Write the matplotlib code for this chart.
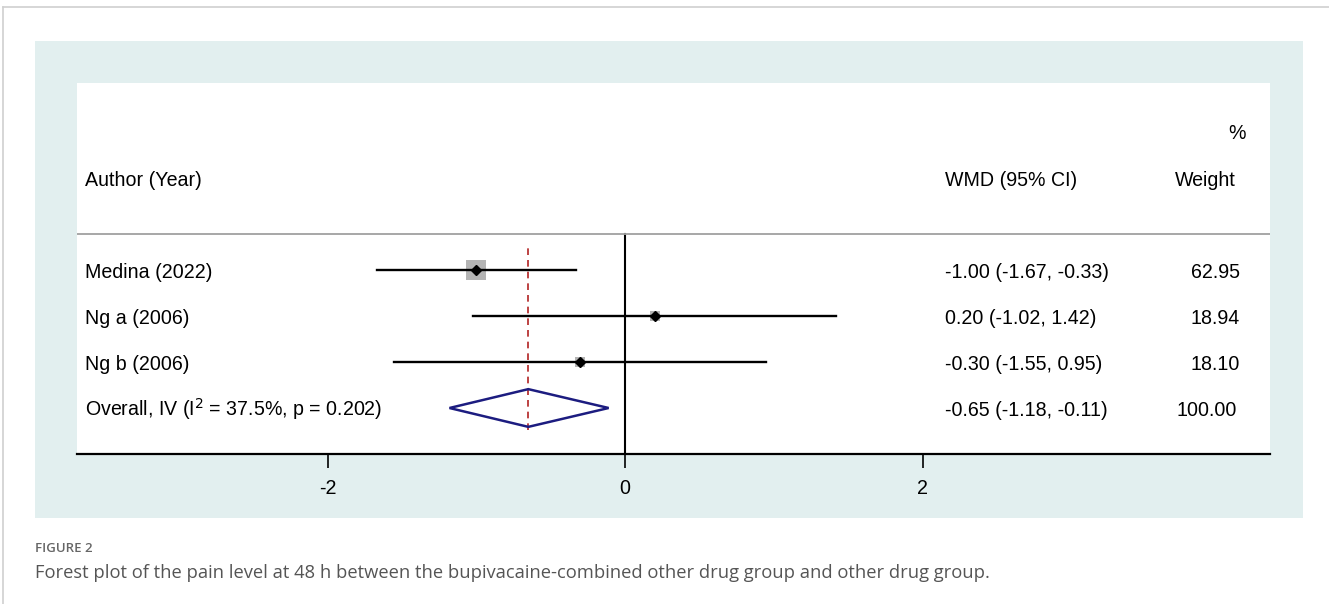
import matplotlib.pyplot as plt
from matplotlib.patches import Rectangle, Polygon
from matplotlib.lines import Line2D

plt.rcParams["font.family"] = ["Liberation Sans", "DejaVu Sans"]

studies = ["Medina (2022)", "Ng a (2006)", "Ng b (2006)"]
wmd = [-1.00, 0.20, -0.30]
lo = [-1.67, -1.02, -1.55]
hi = [-0.33, 1.42, 0.95]
weights = [62.95, 18.94, 18.10]
overall_label = "Overall, IV (I$^2$ = 37.5%, p = 0.202)"
overall = -0.65
overall_lo = -1.18
overall_hi = -0.11
overall_w = 100.00
xticks = [-2, 0, 2]

W, H = 1329, 604
fig = plt.figure(figsize=(W / 100, H / 100), dpi=100)
fig.patch.set_facecolor("white")


def fx(px):
    return px / W


def fy(py):
    return 1 - py / H


# page frame and teal panel
fig.add_artist(Line2D([fx(3), 1], [fy(7), fy(7)], color="#d0d0d0", lw=1.2))
fig.add_artist(Line2D([fx(3), fx(3)], [fy(7), 0], color="#d0d0d0", lw=1.2))
fig.add_artist(Rectangle((fx(35), fy(518)), fx(1303) - fx(35), fy(41) - fy(518),
                         facecolor="#e2efef", edgecolor="none", zorder=0))

ax = fig.add_axes([fx(77), fy(454), fx(1270) - fx(77), fy(83) - fy(454)])
ax.set_facecolor("white")
ppu = 148.75  # pixels per x unit
x0 = 625


def dx(px):
    return (px - x0) / ppu


ax.set_xlim(dx(77), dx(1270))
ax.set_ylim(0, (454 - 83) / 46)

rows = [4, 3, 2]
for r, m, l, h, w in zip(rows, wmd, lo, hi, weights):
    ax.plot([l, h], [r, r], color="black", lw=1.7, zorder=3)
    ax.scatter([m], [r], marker="s", s=3.3 * w, color="#b4b4b4", zorder=2, linewidths=0)
    ax.plot([m], [r], marker="D", ms=5.5, color="black", zorder=4)

diamond = Polygon([[overall_lo, 1], [overall, 1.41], [overall_hi, 1], [overall, 0.59]],
                  closed=True, fill=False, edgecolor="#1c1c80", lw=1.8, zorder=3)
ax.add_patch(diamond)

ax.plot([0, 0], [0, 4.78], color="black", lw=1.5, zorder=1)
ax.plot([overall, overall], [0.52, 4.54], color="#b22222", lw=1.2, ls=(0, (4, 3)), zorder=2)
ax.plot([dx(77), dx(1270)], [4.78, 4.78], color="#a0a0a0", lw=1.3)

fs = 14.1
off = -0.045  # small nudge so text centres sit on the rows
ax.text(dx(85), 6.0 + off, "Author (Year)", fontsize=fs, va="center", ha="left")
ax.text(dx(945), 6.0 + off, "WMD (95% CI)", fontsize=fs, va="center", ha="left")
ax.text(dx(1236), 6.0 + off, "Weight", fontsize=fs, va="center", ha="right")
ax.text(dx(1246), 7.02 + off, "%", fontsize=fs, va="center", ha="right")

for r, name, m, l, h, w in zip(rows, studies, wmd, lo, hi, weights):
    ax.text(dx(85), r + off, name, fontsize=fs, va="center", ha="left")
    ax.text(dx(945), r + off, f"{m:.2f} ({l:.2f}, {h:.2f})", fontsize=fs, va="center", ha="left")
    ax.text(dx(1240), r + off, f"{w:.2f}", fontsize=fs, va="center", ha="right")

ax.text(dx(85), 1 - 0.03, overall_label, fontsize=fs, va="center", ha="left")
ax.text(dx(945), 1 + off, f"{overall:.2f} ({overall_lo:.2f}, {overall_hi:.2f})",
        fontsize=fs, va="center", ha="left")
ax.text(dx(1237), 1 + off, f"{overall_w:.2f}", fontsize=fs, va="center", ha="right")

for s in ["top", "left", "right"]:
    ax.spines[s].set_visible(False)
ax.spines["bottom"].set_linewidth(1.6)
ax.set_yticks([])
ax.set_xticks(xticks)
ax.set_xticklabels([str(t) for t in xticks])
ax.tick_params(axis="x", direction="out", length=10, width=1.2, pad=8, labelsize=fs)

fig.text(fx(35), fy(549), "FIGURE 2", fontsize=9.5, color="#666666", va="center",
         ha="left", family=["Open Sans", "DejaVu Sans"], fontweight="semibold")
fig.text(fx(35), fy(573),
         "Forest plot of the pain level at 48 h between the bupivacaine-combined "
         "other drug group and other drug group.",
         fontsize=13.2, color="#555555", va="center", ha="left",
         family=["Open Sans", "DejaVu Sans"])

fig.savefig("out.png", dpi=100)
